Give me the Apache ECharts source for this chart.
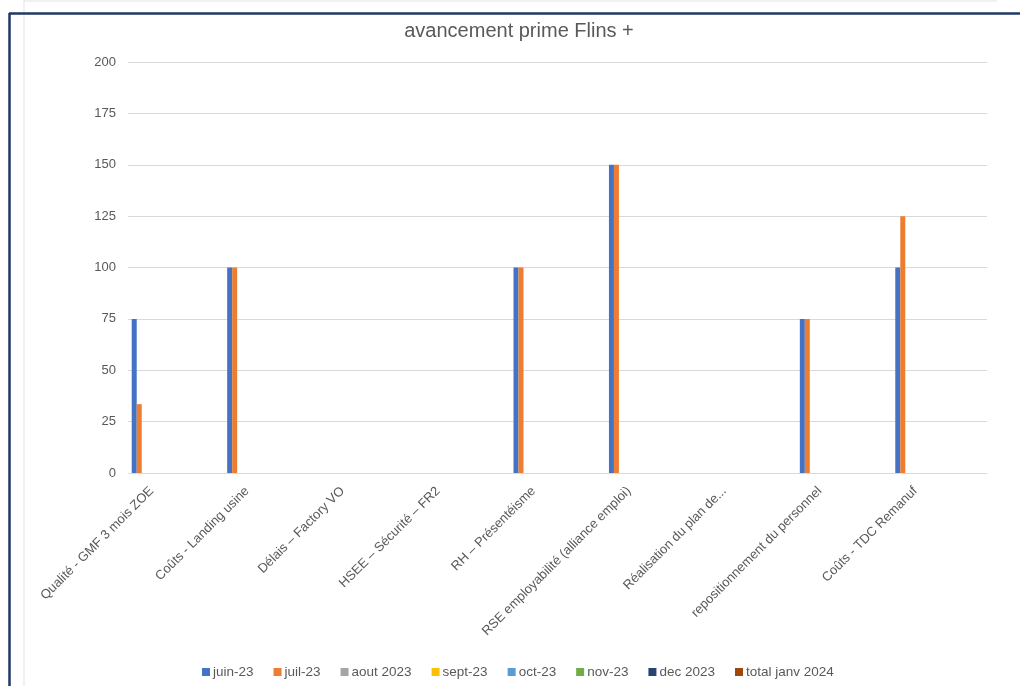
<!DOCTYPE html>
<html>
<head>
<meta charset="utf-8">
<script src="https://cdn.jsdelivr.net/npm/echarts@6/dist/echarts.min.js"></script>
<style>
html,body{margin:0;padding:0;background:#fff;}
#chart{width:1020px;height:686px;}
</style>
</head>
<body>
<div id="chart"></div>
<script>
const categories = [
  "Qualité - GMF 3 mois ZOE",
  "Coûts - Landing usine",
  "Délais – Factory VO",
  "HSEE – Sécurité – FR2",
  "RH – Présentéisme",
  "RSE employabilité (alliance emploi)",
  "Réalisation du plan de...",
  "repositionnement du personnel",
  "Coûts - TDC Remanuf"
];
const seriesNames = ["juin-23","juil-23","aout 2023","sept-23","oct-23","nov-23","dec 2023","total janv 2024"];
const seriesColors = ["#4472C4","#ED7D31","#A5A5A5","#FFC000","#5B9BD5","#70AD47","#264478","#9E480E"];
const juin23 = [75, 100, null, null, 100, 150, null, 75, 100];
const juil23 = [33.5, 100, null, null, 100, 150, null, 75, 125];
const aout2023 = [null, null, null, null, null, null, null, null, null];
const sept23 = [null, null, null, null, null, null, null, null, null];
const oct23 = [null, null, null, null, null, null, null, null, null];
const nov23 = [null, null, null, null, null, null, null, null, null];
const dec2023 = [null, null, null, null, null, null, null, null, null];
const totalJanv2024 = [null, null, null, null, null, null, null, null, null];
const seriesData = [juin23, juil23, aout2023, sept23, oct23, nov23, dec2023, totalJanv2024];
const yTicks = {min: 0, max: 200, interval: 25};

const chart = echarts.init(document.getElementById('chart'), null, {renderer: 'canvas'});
const txt = '#595959';
const font = '"Liberation Sans", "DejaVu Sans", sans-serif';

const series = seriesNames.map((n, i) => ({
  name: n,
  type: 'bar',
  xAxisIndex: 1,
  yAxisIndex: 1,
  data: seriesData[i],
  barWidth: 5,
  barGap: '0%',
  itemStyle: {color: seriesColors[i]}
}));

const option = {
  backgroundColor: '#fff',
  animation: false,
  textStyle: {fontFamily: font},
  title: {
    text: 'avancement prime Flins +',
    left: 514, top: 16, textAlign: 'center',
    textStyle: {color: txt, fontSize: 20, fontWeight: 'normal', fontFamily: font}
  },
  legend: {
    bottom: 2,
    left: 197,
    itemWidth: 8, itemHeight: 8, itemGap: 20,
    icon: 'rect',
    data: seriesNames,
    textStyle: {color: txt, fontSize: 13.5, fontFamily: font, padding: [0,0,0,-2]}
  },
  grid: [
    {left: 128, top: 62, width: 859, height: 411, containLabel: false},
    {left: 104, top: 62, width: 859, height: 411, containLabel: false}
  ],
  xAxis: [
    {type: 'category', gridIndex: 0, data: categories, show: false},
    {type: 'category', gridIndex: 1, data: categories,
      axisLine: {show: false}, axisTick: {show: false},
      axisLabel: {rotate: 45, margin: 16, color: txt, fontSize: 13, fontFamily: font, interval: 0}}
  ],
  yAxis: [
    {type: 'value', gridIndex: 0, min: yTicks.min, max: yTicks.max, interval: yTicks.interval,
      axisLine: {show: false}, axisTick: {show: false},
      axisLabel: {color: txt, fontSize: 13, margin: 12, fontFamily: font},
      splitLine: {lineStyle: {color: '#D9D9D9', width: 1}}},
    {type: 'value', gridIndex: 1, min: yTicks.min, max: yTicks.max, interval: yTicks.interval, show: false,
      splitLine: {show: false}}
  ],
  series: series,
  graphic: [
    {type: 'line', shape: {x1: 24, y1: 1, x2: 997, y2: 1}, style: {stroke: '#E3E3E3', lineWidth: 1}, silent: true},
    {type: 'line', shape: {x1: 24, y1: 0, x2: 24, y2: 686}, style: {stroke: '#E3E3E3', lineWidth: 1}, silent: true},
    {type: 'line', shape: {x1: 9, y1: 13.5, x2: 1020, y2: 13.5}, style: {stroke: '#1F3864', lineWidth: 2.5}, silent: true},
    {type: 'line', shape: {x1: 9.5, y1: 13, x2: 9.5, y2: 686}, style: {stroke: '#1F3864', lineWidth: 2.5}, silent: true}
  ]
};
chart.setOption(option);
</script>
</body>
</html>
